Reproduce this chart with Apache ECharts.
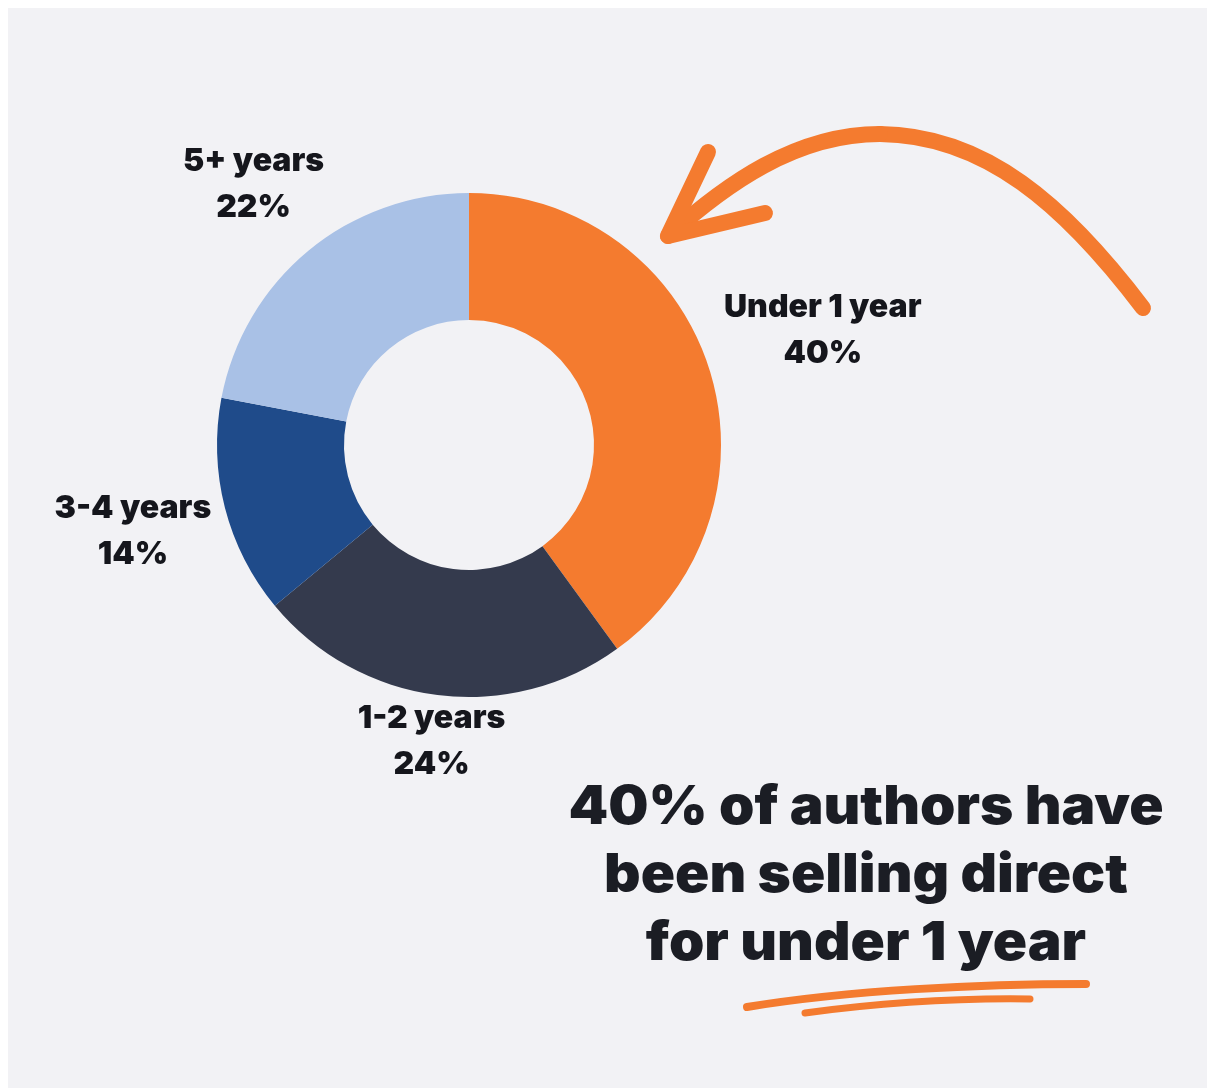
<!DOCTYPE html>
<html>
<head>
<meta charset="utf-8">
<script src="https://cdn.jsdelivr.net/npm/echarts@6/dist/echarts.min.js"></script>
<style>
  html, body { margin: 0; padding: 0; background: #ffffff; }
  #chart { width: 1210px; height: 1088px; }
</style>
</head>
<body>
<div id="chart"></div>
<script>
  // data
  const categories = ["Under 1 year", "1-2 years", "3-4 years", "5+ years"];
  const shares = [40, 24, 14, 22];
  const sliceColors = ["#f47b2f", "#343a4d", "#1f4b8a", "#a9c1e6"];
  const headline = ["40% of authors have", "been selling direct", "for under 1 year"];

  // layout
  const cx = 469, cy = 445;
  const labelDist = [372, 299, 347, 338]; // label centre distance from pie centre

  const total = shares.reduce((a, b) => a + b, 0);
  const midAngles = [];
  let acc = 0;
  shares.forEach(v => {
    midAngles.push((acc + v / 2) / total * Math.PI * 2);
    acc += v;
  });

  const orange = "#f47b2f";
  const strokeStyle = (w) => ({ fill: null, stroke: orange, lineWidth: w, lineCap: "round", lineJoin: "round" });

  let chart = echarts.init(document.getElementById("chart"));

  let option = {
    backgroundColor: "#ffffff",
    animation: false,
    graphic: [
      {
        type: "rect",
        z: -10,
        shape: { x: 8, y: 8, width: 1199, height: 1080 },
        style: { fill: "#f2f2f5" }
      },
      // curved arrow pointing at the orange slice
      {
        type: "bezierCurve",
        z: 5,
        shape: { x1: 1143, y1: 308, cpx1: 1065, cpy1: 205, cpx2: 985, cpy2: 135, x2: 880, y2: 134 },
        style: strokeStyle(16)
      },
      {
        type: "bezierCurve",
        z: 5,
        shape: { x1: 880, y1: 134, cpx1: 795, cpy1: 134, cpx2: 725, cpy2: 185, x2: 668, y2: 236 },
        style: strokeStyle(16)
      },
      {
        type: "polyline",
        z: 5,
        shape: { points: [[708, 152], [668, 236], [765, 213]] },
        style: strokeStyle(16)
      },
      // headline
      {
        type: "text",
        z: 5,
        x: 866,
        y: 774,
        scaleX: 1.05,
        style: {
          text: headline.join("\n"),
          fill: "#1b1d24",
          font: "900 54px Inter, 'Noto Sans', sans-serif",
          lineHeight: 68,
          align: "center",
          verticalAlign: "top"
        }
      },
      // scribbled underline
      {
        type: "bezierCurve",
        z: 5,
        shape: { x1: 747, y1: 1007, cpx1: 850, cpy1: 990, cpx2: 980, cpy2: 984, x2: 1086, y2: 984 },
        style: strokeStyle(8)
      },
      {
        type: "bezierCurve",
        z: 5,
        shape: { x1: 805, y1: 1013, cpx1: 880, cpy1: 1003, cpx2: 960, cpy2: 998, x2: 1030, y2: 999 },
        style: strokeStyle(7)
      }
    ],
    series: [
      {
        type: "pie",
        center: [cx, cy],
        radius: [125, 252],
        startAngle: 90,
        clockwise: true,
        avoidLabelOverlap: false,
        data: categories.map((name, i) => ({
          name: name,
          value: shares[i],
          itemStyle: { color: sliceColors[i] }
        })),
        label: {
          show: true,
          position: "outside",
          formatter: "{b}\n{c}%",
          color: "#15161c",
          fontFamily: "Inter, 'Noto Sans', sans-serif",
          fontWeight: 900,
          fontSize: 32,
          lineHeight: 46,
          align: "center"
        },
        labelLine: { show: false },
        labelLayout: function (params) {
          const i = params.dataIndex;
          const a = midAngles[i];
          return {
            x: cx + labelDist[i] * Math.sin(a),
            y: cy - labelDist[i] * Math.cos(a),
            align: "center",
            verticalAlign: "middle"
          };
        },
        emphasis: { disabled: true }
      }
    ]
  };

  chart.setOption(option);
</script>
</body>
</html>
